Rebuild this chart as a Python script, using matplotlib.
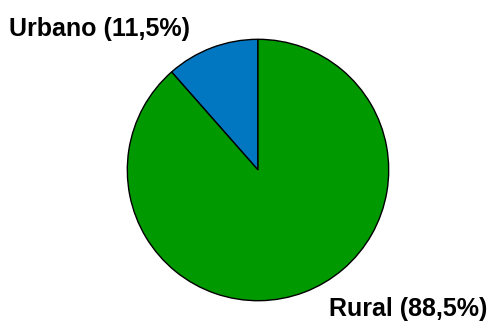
import matplotlib
matplotlib.use("Agg")
import matplotlib.pyplot as plt

labels = ["Urbano (11,5%)", "Rural (88,5%)"]
values = [11.5, 88.5]
colors = ["#0077C0", "#009900"]

W, H = 495, 329
fig = plt.figure(figsize=(W / 100, H / 100), dpi=100)
cx, cy, r = 258, 170, 132
ax = fig.add_axes([(cx - r) / W, (H - cy - r) / H, 2 * r / W, 2 * r / H])
ax.pie(values, colors=colors, startangle=90, counterclock=True,
       wedgeprops=dict(edgecolor="black", linewidth=1.0), radius=1.0)
ax.set_xlim(-1.01, 1.01)
ax.set_ylim(-1.01, 1.01)
ax.set_aspect("equal")
ax.axis("off")

font = dict(family="Liberation Sans", fontweight="bold", fontsize=18, color="black")
fig.text(9 / W, 1 - 36 / H, labels[0], ha="left", va="baseline", **font)
fig.text(329 / W, 1 - 316 / H, labels[1], ha="left", va="baseline", **font)

fig.savefig("out.png", dpi=100, facecolor="white")
